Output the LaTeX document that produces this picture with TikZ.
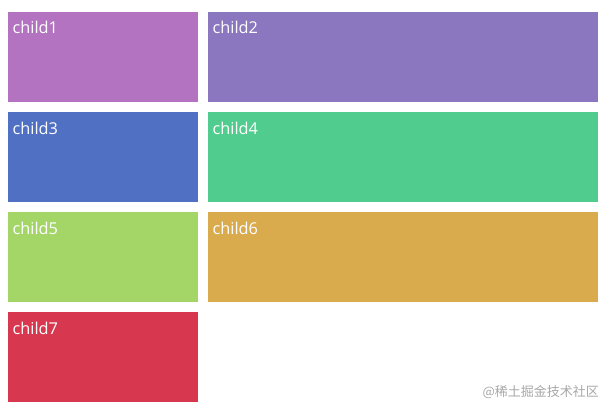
\documentclass[tikz,border=0pt]{standalone}
\usepackage{fontspec}
\setmainfont{Open Sans}
\newfontfamily\cjk{Noto Sans CJK SC}
\definecolor{cA}{HTML}{B473C1}
\definecolor{cB}{HTML}{8A77C0}
\definecolor{cC}{HTML}{4F70C3}
\definecolor{cD}{HTML}{50CC8E}
\definecolor{cE}{HTML}{A3D667}
\definecolor{cF}{HTML}{D9AB4D}
\definecolor{cG}{HTML}{D8384F}
\definecolor{wm}{HTML}{A8A8A8}
\begin{document}
\begin{tikzpicture}[x=1pt,y=-1pt,
  lbl/.style={anchor=base west,text=white,font=\fontsize{16.3}{18}\selectfont,inner sep=0pt}]
\useasboundingbox[fill=white] (0,0) rectangle (612,412);
\fill[cA] (8,12) rectangle (198,102);
\fill[cB] (208,12) rectangle (598,102);
\fill[cC] (8,112) rectangle (198,202);
\fill[cD] (208,112) rectangle (598,202);
\fill[cE] (8,212) rectangle (198,302);
\fill[cF] (208,212) rectangle (598,302);
\fill[cG] (8,312) rectangle (198,402);
\node[lbl] (t1) at (12.5,34) {child1};
\node[lbl] (t2) at (212.5,34) {child2};
\node[lbl] (t3) at (12.5,134) {child3};
\node[lbl] (t4) at (212.5,134) {child4};
\node[lbl] (t5) at (12.5,234) {child5};
\node[lbl] (t6) at (212.5,234) {child6};
\node[lbl] (t7) at (12.5,334) {child7};
\node[anchor=east,inner sep=0pt,text=wm,font=\cjk\fontsize{13}{15}\selectfont] (wm) at (599,392) {@稀土掘金技术社区};
\end{tikzpicture}
\end{document}
